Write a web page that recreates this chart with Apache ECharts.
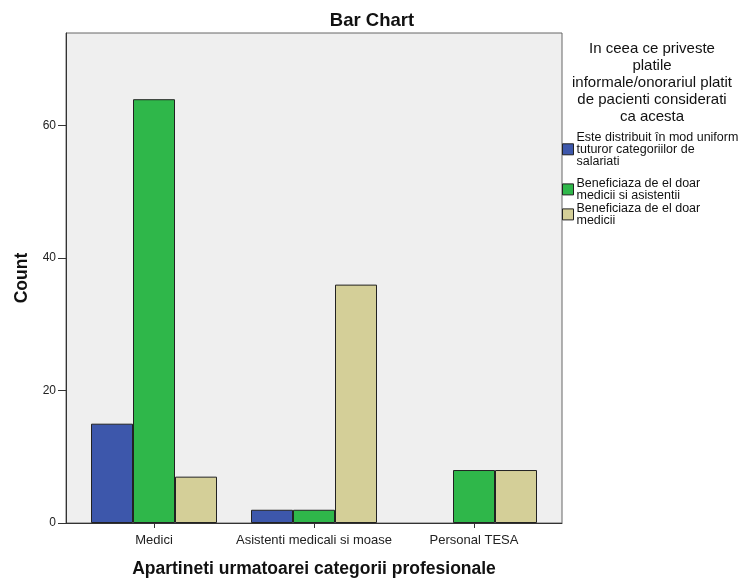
<!DOCTYPE html>
<html>
<head>
<meta charset="utf-8">
<script src="https://cdn.jsdelivr.net/npm/echarts@6/dist/echarts.min.js"></script>
<style>
  html, body { margin: 0; padding: 0; background: #ffffff; }
  #chart { width: 744px; height: 578px; }
</style>
</head>
<body>
<div id="chart"></div>
<script>
// Professional categories on the x axis
const categories = ['Medici', 'Asistenti medicali si moase', 'Personal TESA'];

// Counts per answer group (null = no respondents in that cell)
const uniformValues = [15, 2, null];
const doctorsNursesValues = [64, 2, 8];
const doctorsOnlyValues = [7, 36, 8];

const seriesNames = [
  'Este distribuit în mod uniform\ntuturor categoriilor de\nsalariati',
  'Beneficiaza de el doar\nmedicii si asistentii',
  'Beneficiaza de el doar\nmedicii'
];

const yTicks = [0, 20, 40, 60];

const colors = ['#3d57ab', '#2fb74a', '#d4cf98'];
const fontFamily = '"Liberation Sans", Arial, sans-serif';

const positions = categories.map((_, i) => i);
const toPoints = vals => vals.map((v, i) => [i, v]);

const chart = echarts.init(document.getElementById('chart'), null, { renderer: 'canvas' });

const barStyle = c => ({ color: c, borderColor: '#222222', borderWidth: 1 });

// One legend block per answer group, stacked in the right margin
const legendTops = [131, 177, 202];
const legends = seriesNames.map((name, i) => ({
  orient: 'vertical',
  left: 562,
  top: legendTops[i],
  padding: 0,
  itemWidth: 11,
  itemHeight: 11,
  icon: 'rect',
  data: [name],
  textStyle: { fontFamily, fontSize: 12.5, lineHeight: 11.8, color: '#111111', padding: [0, 0, 0, -2] },
  itemStyle: { borderColor: '#222222', borderWidth: 1 }
}));

chart.setOption({
  animation: false,
  backgroundColor: '#ffffff',
  title: {
    text: 'Bar Chart',
    left: 'center',
    top: 6,
    textStyle: { fontFamily, fontSize: 18.5, fontWeight: 'bold', color: '#111111' }
  },
  graphic: [{
    type: 'text',
    x: 652,
    y: 40,
    style: {
      text: 'In ceea ce priveste\nplatile\ninformale/onorariul platit\nde pacienti considerati\nca acesta',
      textAlign: 'center',
      font: '15px ' + fontFamily,
      lineHeight: 17,
      fill: '#111111'
    }
  }],
  legend: legends,
  grid: {
    left: 66,
    right: 182,
    top: 33,
    bottom: 55,
    outerBoundsMode: 'none',
    containLabel: false,
    show: true,
    backgroundColor: '#efefef',
    borderColor: '#666666',
    borderWidth: 1
  },
  xAxis: {
    type: 'value',
    min: -0.55,
    max: 2.55,
    name: 'Apartineti urmatoarei categorii profesionale',
    nameLocation: 'middle',
    nameGap: 37,
    nameTextStyle: { fontFamily, fontSize: 17.5, fontWeight: 'bold', color: '#111111' },
    axisLine: { show: true, onZero: false, lineStyle: { color: '#333333', width: 1 } },
    axisTick: { show: true, customValues: positions, length: 5, inside: false, lineStyle: { color: '#333333' } },
    axisLabel: {
      customValues: positions,
      formatter: v => categories[Math.round(v)] || '',
      fontFamily, fontSize: 13, color: '#222222', margin: 11
    },
    splitLine: { show: false }
  },
  yAxis: {
    type: 'value',
    min: 0,
    max: 74,
    name: 'Count',
    nameLocation: 'middle',
    nameGap: 35,
    nameTextStyle: { fontFamily, fontSize: 17.5, fontWeight: 'bold', color: '#111111' },
    axisLine: { show: true, onZero: false, lineStyle: { color: '#333333', width: 1 } },
    axisTick: { show: true, customValues: yTicks, length: 8, lineStyle: { color: '#333333' } },
    axisLabel: {
      customValues: yTicks,
      fontFamily, fontSize: 12, color: '#222222', margin: 10
    },
    splitLine: { show: false }
  },
  series: [
    { name: seriesNames[0], type: 'bar', data: toPoints(uniformValues), barWidth: 42, barGap: '0%', itemStyle: barStyle(colors[0]) },
    { name: seriesNames[1], type: 'bar', data: toPoints(doctorsNursesValues), barWidth: 42, barGap: '0%', itemStyle: barStyle(colors[1]) },
    { name: seriesNames[2], type: 'bar', data: toPoints(doctorsOnlyValues), barWidth: 42, barGap: '0%', itemStyle: barStyle(colors[2]) }
  ]
});
</script>
</body>
</html>
